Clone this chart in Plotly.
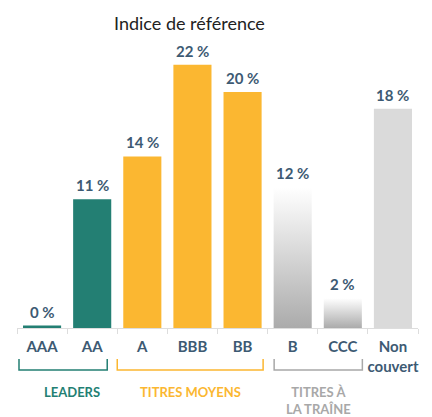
import plotly.graph_objects as go

categories = ["AAA", "AA", "A", "BBB", "BB", "B", "CCC", "Non<br>couvert"]
values = [0.2, 10.8, 14.4, 22.1, 19.8, 11.8, 2.5, 18.4]
value_labels = ["0 %", "11 %", "14 %", "22 %", "20 %", "12 %", "2 %", "18 %"]
bar_colors = ["#237f73", "#237f73", "#fbb731", "#fbb731", "#fbb731",
              "rgba(0,0,0,0)", "rgba(0,0,0,0)", "#dadada"]
gradient_idx = [5, 6]
groups = ["LEADERS", "TITRES MOYENS", "TITRES À<br>LA TRAÎNE"]
group_colors = ["#237f73", "#fbb731", "#a8a8a8"]
group_spans = [(-0.46, 1.30), (1.50, 4.41), (4.63, 6.39)]
title_text = "Indice de référence"

BW = 0.76
LBL = "#3d5a73"
FONT = "Lato"
# the page body has an 8px margin, so the figure is 8px smaller than the window
W, H = 424, 409

x = list(range(len(categories)))
fig = go.Figure()
fig.add_trace(go.Bar(x=x, y=values, width=BW, marker=dict(color=bar_colors, line=dict(width=0)),
                     hoverinfo="skip"))
for i in gradient_idx:
    fig.add_trace(go.Scatter(
        x=[i - BW / 2, i + BW / 2, i + BW / 2, i - BW / 2, i - BW / 2],
        y=[0, 0, values[i], values[i], 0],
        mode="lines", line=dict(width=0), fill="toself",
        fillgradient=dict(type="vertical", colorscale=[[0, "#ababab"], [1, "#ffffff"]]),
        hoverinfo="skip"))

for i, (v, t) in enumerate(zip(values, value_labels)):
    fig.add_annotation(x=i, y=v, text=t, showarrow=False, yanchor="bottom", yshift=3,
                       font=dict(family=FONT, size=15, color=LBL, weight="bold"))

for (a, b), g, c in zip(group_spans, groups, group_colors):
    fig.add_shape(type="path", xref="x", yref="paper",
                  path=f"M {a},-0.108 L {a},-0.147 L {b},-0.147 L {b},-0.108",
                  line=dict(color=c, width=1.5))
    fig.add_annotation(x=(a + b) / 2 + (0.18 if g == "LEADERS" else 0), xref="x",
                       y=-0.19, yref="paper", yanchor="top", showarrow=False, text=g,
                       font=dict(family=FONT, size=13, color=c, weight="bold"))

fig.add_annotation(x=2.95, xref="x", y=1.0, yref="paper", yanchor="bottom", yshift=7,
                   showarrow=False, text=title_text, borderpad=0,
                   font=dict(family=FONT, size=18, color="#222222"))

fig.update_layout(
    width=W, height=H,
    margin=dict(l=9, r=14, t=34, b=89, autoexpand=False),
    plot_bgcolor="white", paper_bgcolor="white",
    showlegend=False,
    xaxis=dict(range=[-0.5, 7.5], tickvals=x, ticktext=categories, ticks="",
               showline=True, linecolor="#dddddd", linewidth=1, showgrid=False, zeroline=False,
               ticklabelstandoff=5, automargin=False,
               tickfont=dict(family=FONT, size=15, color=LBL, weight="bold"),
               minor=dict(tickvals=[i - 0.5 for i in range(len(categories) + 1)],
                          ticks="outside", ticklen=5, tickcolor="#dddddd", tickwidth=1)),
    yaxis=dict(range=[0, 24], visible=False, showgrid=False, zeroline=False),
)
fig.write_html("out.html")
